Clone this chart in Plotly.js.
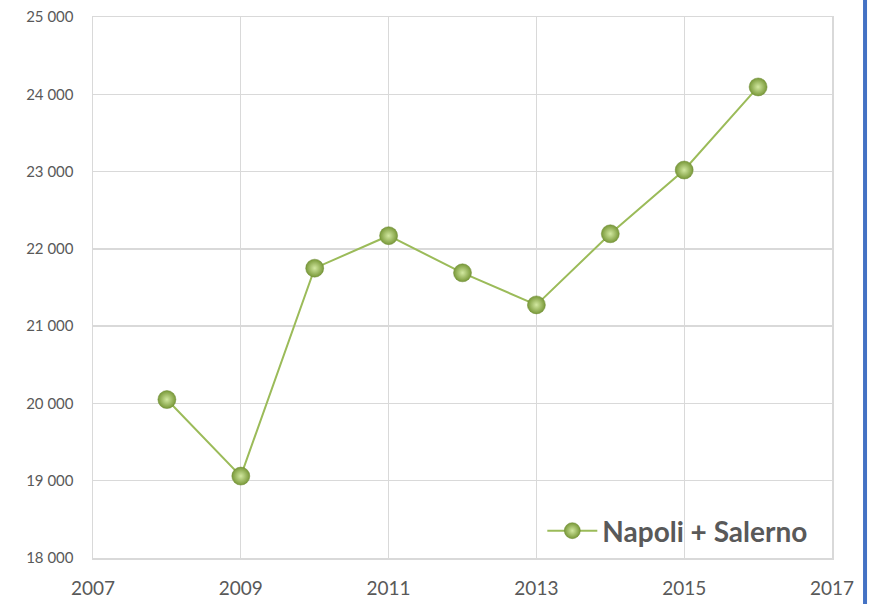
<!DOCTYPE html>
<html>
<head>
<meta charset="utf-8">
<script src="https://cdn.plot.ly/plotly-3.0.1.min.js"></script>
<style>html,body{margin:0;padding:0;background:#fff;}#chart{width:871px;height:604px;}</style>
</head>
<body>
<div id="chart"></div>
<script>
var years = [2008, 2009, 2010, 2011, 2012, 2013, 2014, 2015, 2016];
var values = [20050, 19060, 21750, 22170, 21690, 21275, 22195, 23020, 24095];
var seriesName = "Napoli + Salerno";

var trace = {
  x: years, y: values, name: seriesName, type: "scatter", mode: "lines+markers",
  line: {color: "#9BBB59", width: 2},
  marker: {size: 18, color: "#789838", line: {color: "#6d8a33", width: 0.5},
           gradient: {type: "radial", color: "#D2E8A0"}}
};

var layout = {
  width: 871, height: 604,
  margin: {l: 93, r: 39, t: 17, b: 46},
  paper_bgcolor: "#fff", plot_bgcolor: "#fff",
  separators: ", ",
  font: {family: "Lato, 'Open Sans', sans-serif", color: "#595959"},
  xaxis: {range: [2007, 2017], tick0: 2007, dtick: 2, showgrid: true, gridcolor: "#d9d9d9", gridwidth: 1.3,
          showline: true, linecolor: "#d9d9d9", linewidth: 1.5, mirror: true, zeroline: false,
          ticks: "", tickfont: {size: 19, color: "#595959"}, ticklabelstandoff: 13, fixedrange: true},
  yaxis: {range: [18000, 25000], dtick: 1000, showgrid: true, gridcolor: "#d9d9d9", gridwidth: 1.3,
          showline: true, linecolor: "#d9d9d9", linewidth: 1.5, mirror: true, zeroline: false,
          ticks: "", tickformat: ",d", tickfont: {size: 15, color: "#595959"}, ticklabelstandoff: 15},
  showlegend: true,
  legend: {x: 0.608, y: 0.05, xanchor: "left", yanchor: "middle", bgcolor: "rgba(0,0,0,0)",
           font: {size: 28, color: "#595959", family: "Lato, 'Open Sans', sans-serif", weight: "bold"},
           itemwidth: 50},
  shapes: [{type: "line", xref: "paper", yref: "paper", x0: 1.0447, x1: 1.0447, y0: -0.2, y1: 1.2,
            line: {color: "#4472C4", width: 4}}]
};

Plotly.newPlot("chart", [trace], layout, {displayModeBar: false, staticPlot: true});
</script>
</body>
</html>
